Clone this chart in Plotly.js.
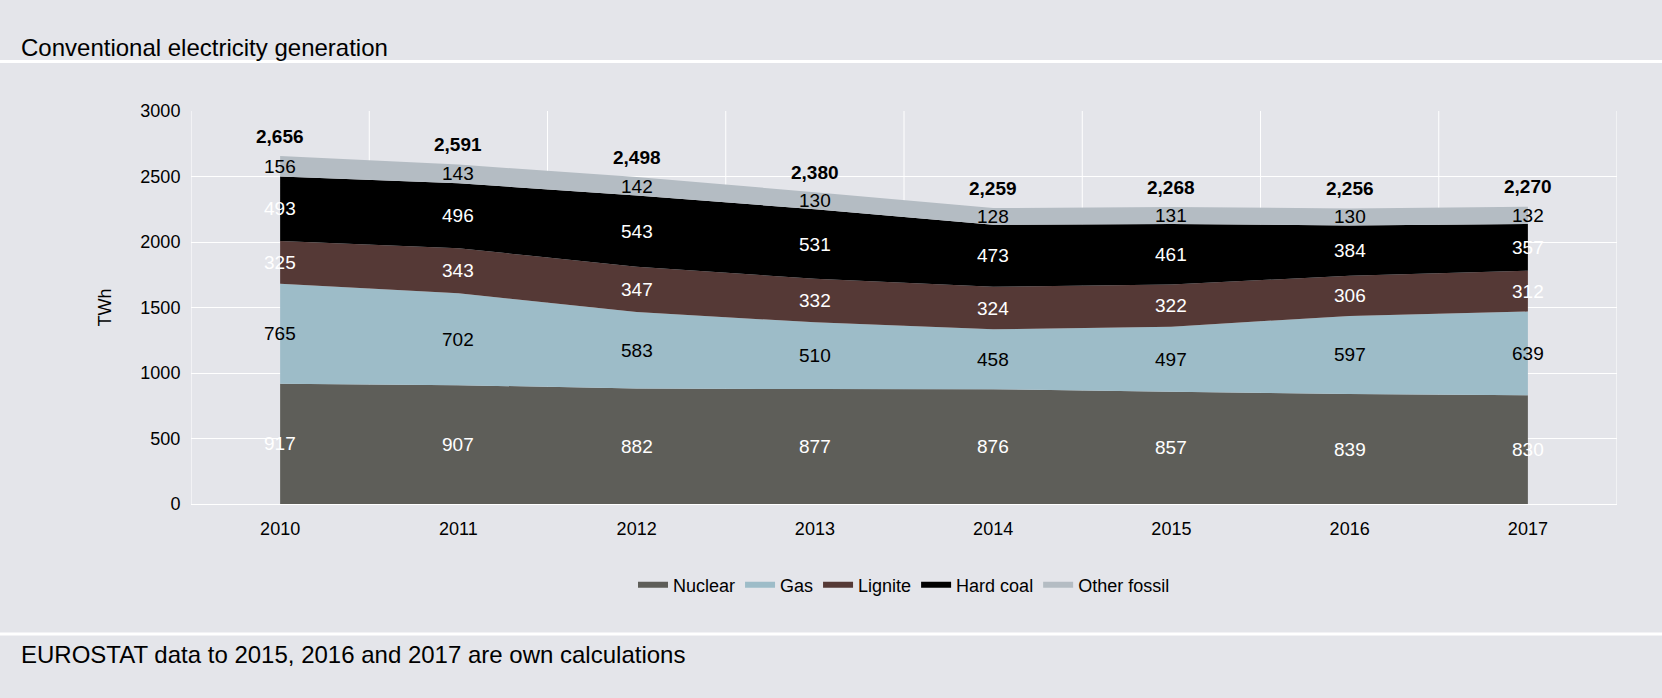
<!DOCTYPE html><html><head><meta charset="utf-8">
<script src="https://cdn.plot.ly/plotly-3.0.1.min.js"></script>
<style>body{margin:0;background:#e4e5ea}</style></head><body>
<div id="c" style="width:1662px;height:698px"></div>
<script>
const years=[2010,2011,2012,2013,2014,2015,2016,2017];
const nuclear=[917,907,882,877,876,857,839,830];
const gas=[765,702,583,510,458,497,597,639];
const lignite=[325,343,347,332,324,322,306,312];
const hardcoal=[493,496,543,531,473,461,384,357];
const other=[156,143,142,130,128,131,130,132];
const totals=[2656,2591,2498,2380,2259,2268,2256,2270];
const series=[["Nuclear",nuclear,"#5e5e59","white"],["Gas",gas,"#9dbcc8","black"],["Lignite",lignite,"#553936","white"],["Hard coal",hardcoal,"#000000","white"],["Other fossil",other,"#b4bcc3","black"]];
const font="Liberation Sans, Arial, sans-serif";
const traces=[],ann=[];
const base=years.map(()=>0);
series.forEach(([n,v,c,tc])=>{
 traces.push({x:years,y:v,name:n,type:'scatter',mode:'none',stackgroup:'a',fillcolor:c,line:{width:0},hoverinfo:'skip'});
 v.forEach((val,i)=>{ann.push({x:years[i],y:base[i]+val/2,text:String(val),showarrow:false,font:{size:19,color:tc,family:font}});base[i]+=val;});
});
totals.forEach((t,i)=>ann.push({x:years[i],y:base[i]+150,text:'<b>'+t.toLocaleString('en-US')+'</b>',showarrow:false,font:{size:19,color:'black',family:font}}));
ann.push({xref:'paper',yref:'paper',x:-0.1206,y:1.201,xanchor:'left',text:'Conventional electricity generation',showarrow:false,font:{size:24,color:'black',family:font}});
ann.push({xref:'paper',yref:'paper',x:-0.1206,y:-0.422,xanchor:'left',text:'EUROSTAT data to 2015, 2016 and 2017 are own calculations',showarrow:false,font:{size:24,color:'black',family:font}});
const shapes=[];
for(let k=0;k<=8;k++)shapes.push({type:'line',xref:'x',yref:'paper',x0:2009.5+k,x1:2009.5+k,y0:0,y1:1,line:{color:'white',width:1},layer:'below'});
[1.126,-0.331].forEach(y=>shapes.push({type:'line',xref:'paper',yref:'paper',x0:-0.134,x1:1.032,y0:y,y1:y,line:{color:'white',width:3}}));
Plotly.newPlot('c',traces,{width:1662,height:698,paper_bgcolor:'#e4e5ea',plot_bgcolor:'#e4e5ea',
margin:{l:191,r:45,t:111,b:194},showlegend:true,
legend:{orientation:'h',traceorder:'normal',x:0.5,xanchor:'center',y:-0.206,yanchor:'middle',font:{size:18,family:font,color:'black'},bgcolor:'rgba(0,0,0,0)'},
xaxis:{range:[2009.5,2017.5],tickvals:years,showgrid:false,zeroline:false,showline:true,linecolor:'white',ticks:'outside',ticklen:8,tickcolor:'rgba(0,0,0,0)',tickfont:{size:18,family:font,color:'black'}},
yaxis:{range:[0,3000],dtick:500,gridcolor:'white',zeroline:false,ticks:'outside',ticklen:6,tickcolor:'rgba(0,0,0,0)',tickfont:{size:18,family:font,color:'black'},title:{text:'TWh',font:{size:18,family:font,color:'black'},standoff:24}},
annotations:ann,shapes:shapes},{displayModeBar:false});
</script></body></html>
